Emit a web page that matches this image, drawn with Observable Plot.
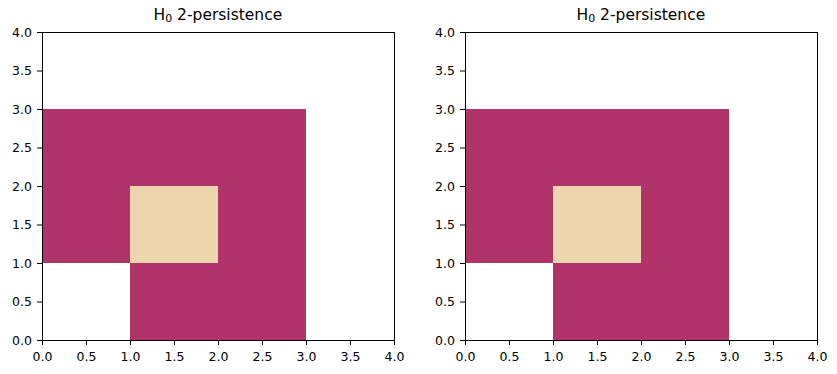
<!DOCTYPE html>
<html>
<head>
<meta charset="utf-8">
<script src="https://cdn.jsdelivr.net/npm/d3@7"></script>
<script src="https://cdn.jsdelivr.net/npm/@observablehq/plot@0.6"></script>
<style>
  html, body { margin: 0; padding: 0; background: #fff; }
  #wrap { position: relative; width: 837px; height: 374px; font-family: "DejaVu Sans", sans-serif; }
  .panel { position: absolute; top: 0; }
  .title { position: absolute; top: 5px; font-family: "DejaVu Sans", sans-serif; font-size: 15.5px; line-height: 20px; color: #000; text-align: center; white-space: nowrap; }
  .title sub { font-size: 11px; vertical-align: -2px; line-height: 0; margin-left: 0px; margin-right: 0px; }
</style>
</head>
<body>
<div id="wrap"></div>
<script>
// Cell boundaries (unit squares) and their persistence values
const cellX1 = [1, 2, 0, 1, 2, 0, 1, 2];
const cellX2 = [2, 3, 1, 2, 3, 1, 2, 3];
const cellY1 = [0, 0, 1, 1, 1, 2, 2, 2];
const cellY2 = [1, 1, 2, 2, 2, 3, 3, 3];
const cellValue = [1, 1, 1, 2, 1, 1, 1, 1];

const colorDomain = [1, 2];
const colorRange = ["#b0346a", "#edd5ad"];
const tickValues = [0, 0.5, 1, 1.5, 2, 2.5, 3, 3.5, 4];
const titles = ["H", "H"];
const panels = [
  { left: 0, width: 418, marginLeft: 42 },
  { left: 418, width: 419, marginLeft: 47 }
];

const cells = cellX1.map((x1, i) => ({ x1, x2: cellX2[i], y1: cellY1[i], y2: cellY2[i], v: cellValue[i] }));
const fmt = d3.format(".1f");
const wrap = document.getElementById("wrap");
const axisBase = { ticks: tickValues, tickFormat: fmt, tickSize: 5, stroke: "#000", strokeWidth: 1, fill: "#000", fontSize: 12.5, label: null };

panels.forEach((p, k) => {
  const plotW = 352;
  const chart = Plot.plot({
    width: p.width,
    height: 374,
    marginLeft: p.marginLeft,
    marginRight: p.width - p.marginLeft - plotW,
    marginTop: 32,
    marginBottom: 34,
    style: { fontFamily: "DejaVu Sans, sans-serif", fontSize: "12.5px", color: "#000", background: "#fff" },
    x: { domain: [0, 4] },
    y: { domain: [0, 4] },
    color: { type: "ordinal", domain: colorDomain, range: colorRange },
    marks: [
      Plot.rect(cells, { x1: "x1", x2: "x2", y1: "y1", y2: "y2", fill: "v", inset: 0, shapeRendering: "crispEdges" }),
      Plot.axisX({ ...axisBase, tickPadding: 6.5 }),
      Plot.axisY({ ...axisBase, tickPadding: 5.5 }),
      Plot.frame({ stroke: "#000", strokeWidth: 1 })
    ]
  });
  chart.classList.add("panel");
  chart.style.left = p.left + "px";
  wrap.appendChild(chart);

  const t = document.createElement("div");
  t.className = "title";
  t.innerHTML = titles[k] + "<sub>0</sub> 2-persistence";
  wrap.appendChild(t);
  const cx = p.left + p.marginLeft + plotW / 2;
  t.style.left = (cx - t.offsetWidth / 2) + "px";
});
</script>
</body>
</html>
